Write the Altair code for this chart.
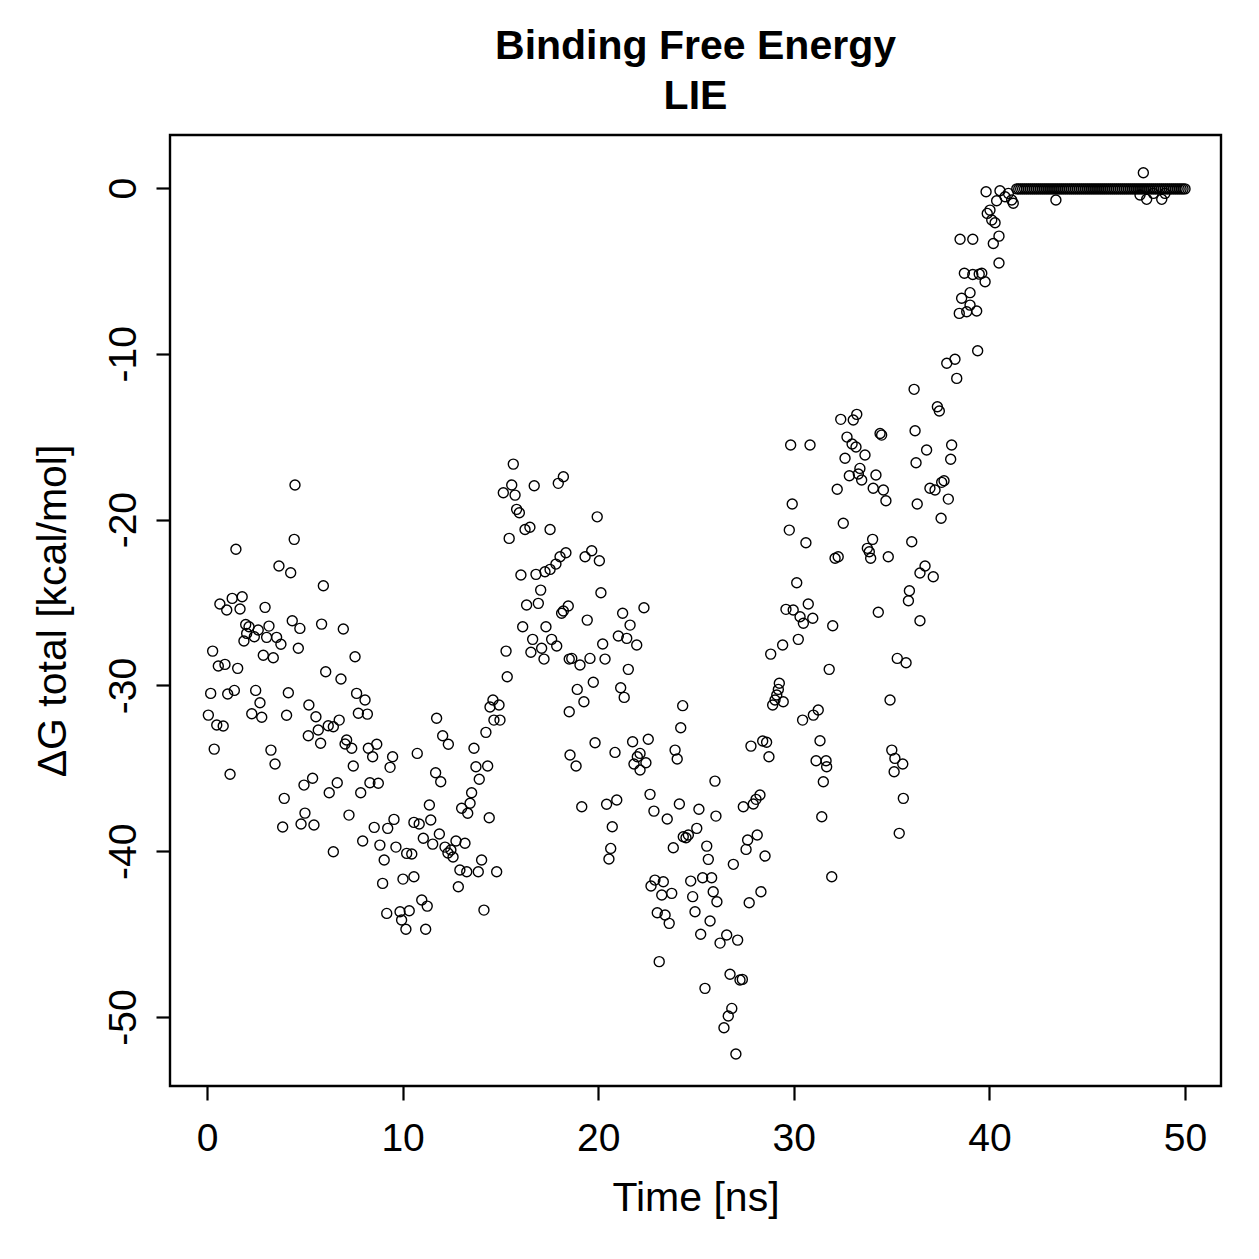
import altair as alt
import pandas as pd

# ---- data (time in ns, dG in kcal/mol) ----
t_a = [0.07, 0.19, 0.29, 0.37, 0.50, 0.58, 0.66, 0.83, 0.92, 1.01,
       1.06, 1.18, 1.29, 1.40, 1.48, 1.57, 1.69, 1.80, 1.89, 1.98,
       2.03, 2.15, 2.29, 2.42, 2.49, 2.62, 2.71, 2.80, 2.88, 2.97,
       3.05, 3.17, 3.27, 3.39, 3.48, 3.56, 3.68, 3.78, 3.87, 3.95,
       4.07, 4.16, 4.28, 4.36, 4.46, 4.50, 4.67, 4.75, 4.81, 4.96]
g_a = [-31.79, -30.48, -27.93, -33.84, -32.39, -28.83, -25.09, -32.45, -28.73, -25.45,
       -30.52, -35.36, -24.75, -30.30, -21.79, -28.97, -25.39, -24.65, -27.32, -26.32,
       -26.86, -26.46, -31.71, -27.06, -30.30, -26.66, -31.04, -31.92, -28.18, -25.29,
       -27.10, -26.42, -33.90, -28.33, -34.74, -27.10, -22.80, -27.52, -38.54, -36.81,
       -31.80, -30.44, -23.20, -26.10, -21.19, -17.91, -27.76, -26.56, -38.36, -36.01]

t_b = [5.01, 5.18, 5.21, 5.40, 5.47, 5.57, 5.69, 5.81, 5.86, 5.95,
       6.07, 6.20, 6.25, 6.46, 6.46, 6.66, 6.76, 6.85, 6.97, 7.06,
       7.14, 7.26, 7.40, 7.48, 7.57, 7.65, 7.74, 7.86, 7.96, 8.08,
       8.20, 8.25, 8.33, 8.47, 8.55, 8.68, 8.76, 8.84, 8.98, 9.06,
       9.19, 9.24, 9.36, 9.49, 9.56, 9.66, 9.87, 9.95]
g_b = [-37.70, -33.03, -31.18, -35.60, -38.42, -31.89, -32.69, -33.49, -26.30, -23.99,
       -29.17, -32.43, -36.47, -32.49, -40.03, -35.87, -32.09, -29.61, -26.60, -33.53,
       -33.29, -37.82, -33.79, -34.86, -28.27, -30.48, -31.68, -36.47, -39.38, -30.88,
       -31.73, -33.79, -35.87, -34.30, -38.56, -33.55, -35.90, -39.63, -41.94, -40.53,
       -43.75, -38.62, -34.94, -34.30, -38.08, -39.75, -43.65, -44.15]

t_c = [10.02, 10.17, 10.21, 10.34, 10.47, 10.58, 10.58, 10.75, 10.85, 10.98,
       11.06, 11.18, 11.26, 11.37, 11.44, 11.54, 11.69, 11.74, 11.88, 11.95,
       12.05, 12.17, 12.32, 12.34, 12.47, 12.58, 12.73, 12.85, 12.93, 13.02,
       13.19, 13.28, 13.33, 13.45, 13.53, 13.65, 13.75, 13.87, 13.92, 14.04,
       14.16, 14.26, 14.35, 14.43, 14.47, 14.62, 14.67, 14.81, 14.93, 14.98]
g_c = [-41.68, -44.71, -40.13, -43.59, -40.17, -38.26, -41.54, -34.10, -38.36, -42.94,
       -39.22, -44.71, -43.31, -37.21, -38.12, -39.57, -35.27, -31.98, -38.96, -35.81,
       -33.03, -39.75, -40.11, -33.55, -39.93, -40.35, -39.38, -42.14, -41.13, -37.41,
       -39.52, -41.24, -37.71, -37.11, -36.47, -33.79, -34.90, -41.24, -35.66, -40.53,
       -43.55, -32.83, -34.86, -37.98, -31.30, -30.88, -32.09, -41.24, -31.18, -32.09]

t_d = [15.15, 15.29, 15.35, 15.45, 15.58, 15.66, 15.75, 15.83, 15.97, 16.05,
       16.14, 16.26, 16.34, 16.51, 16.56, 16.65, 16.73, 16.82, 16.94, 17.06,
       17.11, 17.23, 17.28, 17.33, 17.54, 17.54, 17.62, 17.84, 17.88, 17.96,
       18.05, 18.13, 18.22, 18.22, 18.35, 18.47, 18.52, 18.52, 18.56, 18.65,
       18.87, 18.93, 19.07, 19.16, 19.27, 19.33, 19.44, 19.58, 19.67, 19.75,
       19.84, 19.95]
g_d = [-18.38, -27.93, -29.48, -21.13, -17.91, -16.65, -18.52, -19.38, -19.58, -23.34,
       -26.46, -20.59, -25.15, -20.46, -28.00, -27.22, -17.96, -23.30, -25.05, -24.25,
       -27.76, -28.41, -23.14, -26.46, -23.00, -20.59, -27.22, -22.68, -27.62, -17.81,
       -22.24, -25.65, -25.51, -17.41, -22.00, -25.21, -28.41, -31.59, -34.20, -28.37,
       -34.86, -30.24, -28.77, -37.32, -30.98, -22.24, -26.06, -28.37, -21.88, -29.81,
       -33.46, -19.83]

t_e = [20.06, 20.14, 20.23, 20.35, 20.43, 20.55, 20.64, 20.72, 20.86, 20.95,
       21.03, 21.15, 21.25, 21.33, 21.46, 21.54, 21.63, 21.76, 21.83, 21.97,
       22.00, 22.14, 22.14, 22.34, 22.44, 22.56, 22.65, 22.70, 22.85, 22.90,
       23.02, 23.12, 23.25, 23.33, 23.42, 23.53, 23.63, 23.76, 23.84, 23.93,
       24.04, 24.15, 24.22, 24.32, 24.35, 24.49, 24.61, 24.73, 24.83, 24.95]
g_e = [-22.48, -24.41, -27.50, -28.41, -37.17, -40.47, -39.83, -38.52, -34.04, -36.91,
       -27.02, -30.14, -25.65, -30.72, -27.16, -29.03, -26.36, -33.40, -34.74, -27.56,
       -34.30, -34.10, -35.10, -25.31, -34.66, -33.25, -36.57, -42.10, -37.58, -41.74,
       -43.71, -46.66, -42.64, -41.84, -43.85, -38.06, -44.35, -42.54, -39.79, -33.90,
       -34.44, -37.15, -32.55, -31.22, -39.13, -39.19, -39.02, -41.80, -42.74, -43.65]

t_f = [25.04, 25.15, 25.24, 25.34, 25.46, 25.55, 25.63, 25.72, 25.80, 25.88,
       25.97, 26.02, 26.07, 26.23, 26.43, 26.57, 26.65, 26.74, 26.83, 26.91,
       27.04, 27.13, 27.25, 27.37, 27.42, 27.56, 27.64, 27.72, 27.81, 27.93,
       28.07, 28.13, 28.27, 28.32, 28.41, 28.53, 28.61, 28.73, 28.82, 28.92,
       29.04, 29.13, 29.21, 29.26, 29.43, 29.46, 29.60, 29.77, 29.84, 29.92,
       29.97]
g_f = [-38.62, -37.47, -45.01, -41.60, -48.27, -39.69, -40.49, -44.21, -41.60, -42.44,
       -35.77, -37.88, -43.05, -45.54, -50.65, -45.05, -49.94, -47.42, -49.48, -40.79,
       -52.23, -45.36, -47.77, -47.73, -37.32, -39.89, -39.32, -43.11, -33.66, -37.15,
       -36.87, -39.02, -36.61, -42.44, -33.35, -40.29, -33.43, -34.30, -28.11, -31.18,
       -30.88, -30.58, -30.24, -29.87, -27.56, -30.98, -25.41, -20.63, -15.50, -19.06,
       -25.45]

t_g = [30.15, 30.23, 30.32, 30.45, 30.49, 30.62, 30.74, 30.83, 30.97, 31.00,
       31.14, 31.25, 31.34, 31.43, 31.51, 31.65, 31.68, 31.81, 31.94, 31.99,
       32.11, 32.22, 32.27, 32.40, 32.53, 32.62, 32.72, 32.84, 32.98, 33.04,
       33.18, 33.22, 33.30, 33.38, 33.47, 33.64, 33.76, 33.86, 33.93, 34.03,
       34.06, 34.20, 34.32, 34.41, 34.49, 34.58, 34.71, 34.83, 34.92]
g_g = [-23.81, -27.22, -25.86, -32.09, -26.25, -21.39, -25.09, -15.50, -25.95, -31.79,
       -34.54, -31.48, -33.34, -37.92, -35.81, -34.54, -34.90, -29.03, -41.54, -26.40,
       -22.33, -18.17, -22.24, -13.95, -20.22, -16.30, -15.02, -17.35, -15.44, -13.99,
       -15.62, -13.65, -17.25, -16.91, -17.61, -16.10, -21.73, -21.94, -22.33, -21.19,
       -18.11, -17.31, -25.59, -14.80, -14.90, -18.21, -18.86, -22.24, -30.88]

t_h = [35.01, 35.13, 35.17, 35.29, 35.39, 35.57, 35.60, 35.74, 35.86, 35.91,
       36.03, 36.15, 36.20, 36.25, 36.31, 36.45, 36.45, 36.71, 36.79, 36.96,
       37.13, 37.22, 37.34, 37.44, 37.53, 37.56, 37.68, 37.82, 37.90, 38.02,
       38.07, 38.24, 38.33, 38.46, 38.50, 38.58, 38.72, 38.84, 39.01, 39.01,
       39.15, 39.15, 39.35, 39.40, 39.48, 39.61, 39.78, 39.83, 39.89]
g_h = [-33.90, -35.21, -34.40, -28.37, -38.92, -34.74, -36.81, -28.63, -24.89, -24.29,
       -21.33, -12.14, -14.64, -16.57, -19.06, -23.22, -26.10, -22.80, -15.80, -18.11,
       -23.44, -18.21, -13.19, -13.45, -19.92, -17.75, -17.65, -10.57, -18.76, -16.36,
       -15.50, -10.33, -11.48, -7.56, -3.09, -6.65, -5.14, -7.46, -7.06, -6.31,
       -3.09, -5.21, -7.42, -9.81, -5.19, -5.14, -5.65, -0.22, -1.53]

t_i = [40.03, 40.12, 40.20, 40.29, 40.37, 40.49, 40.49, 40.54, 40.80, 40.97,
       41.14, 41.22, 43.40, 47.70, 47.87, 48.04, 48.38, 48.81, 48.98]
g_i = [-1.33, -1.93, -3.34, -2.09, -0.77, -2.90, -4.52, -0.16, -0.52, -0.32,
       -0.72, -0.92, -0.72, -0.42, 0.92, -0.68, -0.32, -0.68, -0.32]

# plateau (unbound ligand) 41.4 - 50 ns, values essentially zero
t_flat = [41.4, 41.5, 41.6, 41.7, 41.8, 41.9, 42.0, 42.1, 42.2, 42.3,
          42.4, 42.5, 42.6, 42.7, 42.8, 42.9, 43.0, 43.1, 43.2, 43.3,
          43.4, 43.5, 43.6, 43.7, 43.8, 43.9, 44.0, 44.1, 44.2, 44.3,
          44.4, 44.5, 44.6, 44.7, 44.8, 44.9, 45.0, 45.1, 45.2, 45.3,
          45.4, 45.5, 45.6, 45.7, 45.8, 45.9, 46.0, 46.1, 46.2, 46.3,
          46.4, 46.5, 46.6, 46.7, 46.8, 46.9, 47.0, 47.1, 47.2, 47.3,
          47.4, 47.5, 47.6, 47.7, 47.8, 47.9, 48.0, 48.1, 48.2, 48.3,
          48.4, 48.5, 48.6, 48.7, 48.8, 48.9, 49.0, 49.1, 49.2, 49.3,
          49.4, 49.5, 49.6, 49.7, 49.8, 49.9, 50.0]
g_flat = [-0.05, -0.05, -0.05, -0.05, -0.05, -0.05, -0.05, -0.05, -0.05, -0.05,
          -0.05, -0.05, -0.05, -0.05, -0.05, -0.05, -0.05, -0.05, -0.05, -0.05,
          -0.05, -0.05, -0.05, -0.05, -0.05, -0.05, -0.05, -0.05, -0.05, -0.05,
          -0.05, -0.05, -0.05, -0.05, -0.05, -0.05, -0.05, -0.05, -0.05, -0.05,
          -0.05, -0.05, -0.05, -0.05, -0.05, -0.05, -0.05, -0.05, -0.05, -0.05,
          -0.05, -0.05, -0.05, -0.05, -0.05, -0.05, -0.05, -0.05, -0.05, -0.05,
          -0.05, -0.05, -0.05, -0.05, -0.05, -0.05, -0.05, -0.05, -0.05, -0.05,
          -0.05, -0.05, -0.05, -0.05, -0.05, -0.05, -0.05, -0.05, -0.05, -0.05,
          -0.05, -0.05, -0.05, -0.05, -0.05, -0.05, -0.05]

x_ticks = [0, 10, 20, 30, 40, 50]
y_ticks = [0, -10, -20, -30, -40, -50]

times = t_a + t_b + t_c + t_d + t_e + t_f + t_g + t_h + t_i + t_flat
dgs = g_a + g_b + g_c + g_d + g_e + g_f + g_g + g_h + g_i + g_flat
n = min(len(times), len(dgs))
df = pd.DataFrame({"t": times[:n], "dg": dgs[:n]})

FONT = "Liberation Sans"

axis_common = dict(
    grid=False, domain=False, ticks=True, tickSize=14, tickWidth=2.2,
    tickColor="black", labelFont=FONT, labelFontSize=39, labelColor="black",
    titleFont=FONT, titleFontSize=41, titleFontWeight="normal",
    titleColor="black", labelExpr="'' + datum.value",
)

chart = (
    alt.Chart(df)
    .mark_point(shape="circle", filled=False, color="black", size=100,
                strokeWidth=1.4, opacity=1)
    .encode(
        x=alt.X("t:Q",
                scale=alt.Scale(domain=[-1.89, 51.84], nice=False, zero=False),
                axis=alt.Axis(values=x_ticks, title="Time [ns]",
                              labelPadding=19, titlePadding=20,
                              labelAngle=0, **axis_common)),
        y=alt.Y("dg:Q",
                scale=alt.Scale(domain=[-54.16, 3.2], nice=False, zero=False),
                axis=alt.Axis(values=y_ticks, title="ΔG total [kcal/mol]",
                              labelAngle=-90, labelAlign="center",
                              labelBaseline="bottom", labelPadding=13,
                              titlePadding=30, **axis_common)),
    )
    .properties(
        width=1051, height=951,
        title=alt.TitleParams(["Binding Free Energy", "LIE"], font=FONT,
                              fontSize=41, fontWeight="bold", color="black",
                              anchor="middle", offset=17, lineHeight=50),
        autosize=alt.AutoSizeParams(type="none"),
        padding={"left": 170, "top": 135, "right": 38, "bottom": 173},
    )
    .configure(background="white")
    .configure_view(stroke="black", strokeWidth=2.4)
)

chart.save("out.html", embed_options={"renderer": "svg", "actions": False})
